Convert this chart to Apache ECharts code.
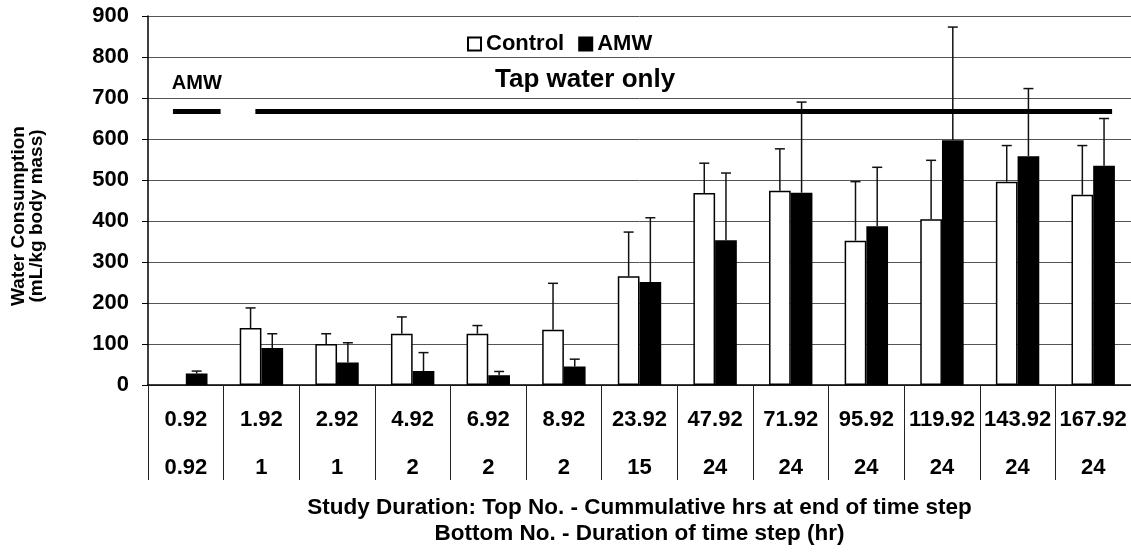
<!DOCTYPE html>
<html>
<head>
<meta charset="utf-8">
<script src="https://cdn.jsdelivr.net/npm/echarts@6/dist/echarts.min.js"></script>
<style>
  html, body { margin: 0; padding: 0; background: #fff; }
  #chart { width: 1131px; height: 556px; }
</style>
</head>
<body>
<div id="chart"></div>
<script>
// ---- data ----
var cumulativeHrs = ['0.92', '1.92', '2.92', '4.92', '6.92', '8.92', '23.92', '47.92', '71.92', '95.92', '119.92', '143.92', '167.92'];
var stepHrs = ['0.92', '1', '1', '2', '2', '2', '15', '24', '24', '24', '24', '24', '24'];
var controlMean = [null, 139, 100, 125, 125, 135, 265, 468, 474, 352, 404, 496, 464];
var controlSD = [null, 49, 25, 41, 20, 113, 108, 73, 102, 144, 144, 88, 120];
var amwMean = [28, 90, 55, 34, 24, 45, 251, 353, 469, 387, 597, 558, 535];
var amwSD = [6, 35, 48, 45, 9, 18, 157, 164, 221, 144, 276, 165, 115];
var yTicks = [0, 100, 200, 300, 400, 500, 600, 700, 800, 900];
// treatment period annotations: [label, start (category units), end (category units)]
var periodLevel = 667;
var amwPeriod = ['AMW', -0.17, 0.46];
var tapPeriod = ['Tap water only', 0.92, 12.25];

var FONT = '"Liberation Sans", Arial, sans-serif';
var BAR_RATIO = 0.287;

function errData(mean, sd) {
  return mean.map(function (v, i) { return [i, v, sd[i]]; });
}

function errRender(side) {
  return function (params, api) {
    var v = api.value(1);
    if (v === null || v === undefined || isNaN(v)) return null;
    var idx = api.value(0);
    var sd = api.value(2);
    var base = api.coord([idx, v]);
    var top = api.coord([idx, v + sd]);
    var band = api.size([1, 0])[0];
    var bw = band * BAR_RATIO;
    var x = base[0] + side * bw / 2;
    var cap = 5;
    var st = { stroke: '#111', lineWidth: 1.5 };
    return {
      type: 'group',
      children: [
        { type: 'line', shape: { x1: x, y1: base[1], x2: x, y2: top[1] }, style: st },
        { type: 'line', shape: { x1: x - cap, y1: top[1], x2: x + cap, y2: top[1] }, style: st }
      ]
    };
  };
}

var chart = echarts.init(document.getElementById('chart'), null, { renderer: 'canvas' });

var option = {
  animation: false,
  backgroundColor: '#fff',
  textStyle: { fontFamily: FONT },
  grid: { left: 148, right: 0, top: 16, bottom: 171 },
  legend: {
    data: ['Control', 'AMW'],
    left: 467, top: 33, padding: 0,
    icon: 'rect',
    itemWidth: 13, itemHeight: 13, itemGap: 14,
    textStyle: { fontFamily: FONT, fontSize: 22, fontWeight: 'bold', color: '#000' }
  },
  xAxis: {
    type: 'category',
    data: cumulativeHrs,
    boundaryGap: true,
    axisLine: { lineStyle: { color: '#000', width: 1.5 } },
    axisTick: { show: true, interval: 0, length: 95, lineStyle: { color: '#222', width: 1 } },
    axisLabel: {
      interval: 0, margin: 11, lineHeight: 48,
      fontFamily: FONT, fontSize: 22, fontWeight: 'bold', color: '#000',
      formatter: function (v, i) { return v + '\n' + stepHrs[i]; }
    },
    splitLine: { show: false }
  },
  yAxis: {
    type: 'value',
    min: yTicks[0], max: yTicks[yTicks.length - 1], interval: yTicks[1] - yTicks[0],
    axisLine: { show: true, lineStyle: { color: '#000', width: 1.5 } },
    axisTick: { show: true, length: 6, lineStyle: { color: '#000' } },
    axisLabel: { margin: 19, fontFamily: FONT, fontSize: 22, fontWeight: 'bold', color: '#000' },
    splitLine: { show: true, lineStyle: { color: '#555', width: 1 } }
  },
  series: [
    {
      name: 'Control', type: 'bar', data: controlMean,
      barWidth: (BAR_RATIO * 100) + '%', barGap: '0%',
      itemStyle: { color: '#fff', borderColor: '#000', borderWidth: 1.5 },
      z: 2
    },
    {
      name: 'AMW', type: 'bar', data: amwMean,
      barWidth: (BAR_RATIO * 100) + '%', barGap: '0%',
      itemStyle: { color: '#000', borderColor: '#000', borderWidth: 1.5 },
      z: 2
    },
    {
      name: 'Control SD', type: 'custom', data: errData(controlMean, controlSD),
      encode: { x: 0, y: 1 }, renderItem: errRender(-1), z: 3, silent: true
    },
    {
      name: 'AMW SD', type: 'custom', data: errData(amwMean, amwSD),
      encode: { x: 0, y: 1 }, renderItem: errRender(1), z: 3, silent: true
    }
  ]
};
chart.setOption(option);

// annotations positioned through the axis scales
function px(u, v) {
  var c0 = chart.convertToPixel({ xAxisIndex: 0, yAxisIndex: 0 }, [0, v]);
  var c1 = chart.convertToPixel({ xAxisIndex: 0, yAxisIndex: 0 }, [1, v]);
  var band = c1[0] - c0[0];
  return [c0[0] + u * band, c0[1]];
}
var a0 = px(amwPeriod[1], periodLevel), a1 = px(amwPeriod[2], periodLevel);
var t0 = px(tapPeriod[1], periodLevel), t1 = px(tapPeriod[2], periodLevel);
var aLab = px((amwPeriod[1] + amwPeriod[2]) / 2, 736);
var tLab = px(5.28, 745);
var plotL = px(-0.5, 0)[0], plotR = px(12.5, 0)[0];

chart.setOption({
  graphic: [
    { type: 'line', shape: { x1: a0[0], y1: a0[1], x2: a1[0], y2: a1[1] }, style: { stroke: '#000', lineWidth: 5 }, z: 10 },
    { type: 'line', shape: { x1: t0[0], y1: t0[1], x2: t1[0], y2: t1[1] }, style: { stroke: '#000', lineWidth: 5 }, z: 10 },
    { type: 'text', x: aLab[0], y: aLab[1], style: { text: amwPeriod[0], fontFamily: FONT, fontSize: 20, fontWeight: 'bold', fill: '#000', align: 'center', verticalAlign: 'middle' }, z: 10 },
    { type: 'text', x: tLab[0], y: tLab[1], style: { text: tapPeriod[0], fontFamily: FONT, fontSize: 26, fontWeight: 'bold', fill: '#000', align: 'center', verticalAlign: 'middle' }, z: 10 },
    { type: 'text', x: 28, y: 216, rotation: Math.PI / 2,
      style: { text: 'Water Consumption\n(mL/kg body mass)', fontFamily: FONT, fontSize: 19, fontWeight: 'bold', lineHeight: 18, fill: '#000', align: 'center', verticalAlign: 'middle' } },
    { type: 'text', x: (plotL + plotR) / 2, y: 521,
      style: { text: 'Study Duration: Top No. - Cummulative hrs at end of time step\nBottom No. - Duration of time step (hr)', fontFamily: FONT, fontSize: 22.5, fontWeight: 'bold', lineHeight: 26, fill: '#000', align: 'center', verticalAlign: 'middle' } }
  ]
});
</script>
</body>
</html>
